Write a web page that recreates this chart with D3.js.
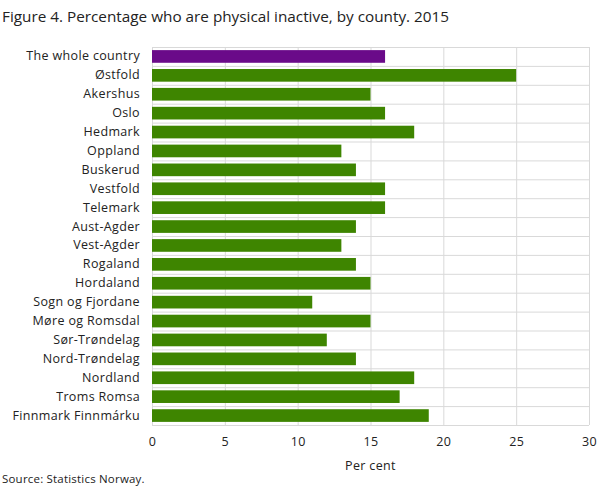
<!DOCTYPE html>
<html>
<head>
<meta charset="utf-8">
<script src="https://cdn.jsdelivr.net/npm/d3@7"></script>
<style>
  body { margin: 0; background: #fff; }
  text { font-family: "Open Sans", sans-serif; fill: #222; }
  .grid line { stroke: #d9d9d9; }
</style>
</head>
<body>
<div id="bar-chart"></div>
<script>
// data
const counties = ["The whole country", "Østfold", "Akershus", "Oslo", "Hedmark", "Oppland",
  "Buskerud", "Vestfold", "Telemark", "Aust-Agder", "Vest-Agder", "Rogaland", "Hordaland",
  "Sogn og Fjordane", "Møre og Romsdal", "Sør-Trøndelag", "Nord-Trøndelag", "Nordland",
  "Troms Romsa", "Finnmark Finnmárku"];
const values = [16, 25, 15, 16, 18, 13, 14, 16, 16, 14, 13, 14, 15, 11, 15, 12, 14, 18, 17, 19];
const xTicks = [0, 5, 10, 15, 20, 25, 30];

const data = counties.map((c, i) => ({item: c, value: values[i]}));

const W = 608, H = 489;
const margin = {top: 47, right: 19, bottom: 64, left: 152};
const width = W - margin.left - margin.right;
const height = H - margin.top - margin.bottom;

const svg = d3.select("#bar-chart")
  .append("svg")
  .attr("width", W)
  .attr("height", H);

// title
svg.append("text")
  .attr("x", 2)
  .attr("y", 22)
  .style("font-size", "15.3px")
  .text("Figure 4. Percentage who are physical inactive, by county. 2015");

const chart = svg.append("g")
  .attr("transform", `translate(${margin.left},${margin.top})`);

const xScale = d3.scaleLinear()
  .domain([0, 30])
  .range([0, width]);

const yScale = d3.scaleBand()
  .domain(counties)
  .range([0, height])
  .paddingInner(0.33)
  .paddingOuter(0.165);

// vertical grid lines
chart.append("g")
  .attr("class", "grid")
  .selectAll("line")
  .data(xTicks)
  .join("line")
  .attr("x1", d => xScale(d) + 0.5)
  .attr("x2", d => xScale(d) + 0.5)
  .attr("y1", 0)
  .attr("y2", height);

// horizontal lines between rows
const step = yScale.step();
chart.append("g")
  .attr("class", "grid")
  .selectAll("line")
  .data(d3.range(counties.length + 1))
  .join("line")
  .attr("x1", 0)
  .attr("x2", width)
  .attr("y1", d => d * step + 0.5)
  .attr("y2", d => d * step + 0.5);

// bars
chart.selectAll("rect")
  .data(data)
  .join("rect")
  .attr("fill", (d, i) => i === 0 ? "#6a0a89" : "#3e8500")
  .attr("x", xScale(0))
  .attr("y", d => yScale(d.item))
  .attr("width", d => xScale(d.value))
  .attr("height", yScale.bandwidth());

// y axis labels
chart.append("g")
  .call(d3.axisLeft(yScale).tickSize(0).tickPadding(12))
  .call(g => g.select(".domain").remove())
  .selectAll("text")
  .style("font-size", "12.5px")
  .style("letter-spacing", "0.35px")
  .style("font-family", "Open Sans, sans-serif")
  .attr("fill", "#222");

// x axis labels
chart.append("g")
  .attr("transform", `translate(0,${height})`)
  .call(d3.axisBottom(xScale).tickValues(xTicks).tickSize(0).tickPadding(12))
  .call(g => g.select(".domain").remove())
  .selectAll("text")
  .style("font-size", "12.5px")
  .style("letter-spacing", "0.35px")
  .style("font-family", "Open Sans, sans-serif")
  .attr("fill", "#222");

// x axis title
chart.append("text")
  .attr("x", width / 2)
  .attr("y", height + 45)
  .attr("text-anchor", "middle")
  .style("font-size", "12.5px")
  .style("letter-spacing", "0.35px")
  .text("Per cent");

// source
svg.append("text")
  .attr("x", 2)
  .attr("y", 483)
  .style("font-size", "11.5px")
  .style("letter-spacing", "0.2px")
  .text("Source: Statistics Norway.");
</script>
</body>
</html>
